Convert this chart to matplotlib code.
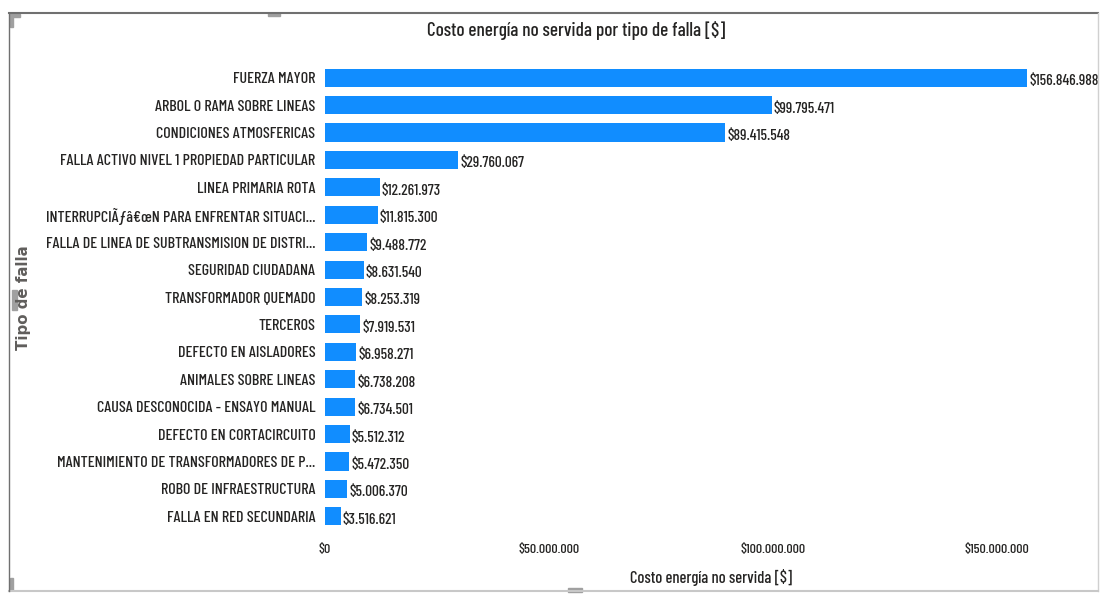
import matplotlib
matplotlib.use("Agg")
import matplotlib.pyplot as plt
from matplotlib.patches import Rectangle
from matplotlib.lines import Line2D
from matplotlib.ticker import FuncFormatter
from matplotlib.textpath import TextPath
from matplotlib.font_manager import FontProperties

categories = [
    "FUERZA MAYOR",
    "ARBOL O RAMA SOBRE LINEAS",
    "CONDICIONES ATMOSFERICAS",
    "FALLA ACTIVO NIVEL 1 PROPIEDAD PARTICULAR",
    "LINEA PRIMARIA ROTA",
    "INTERRUPCI\u00c3\u0192\u00e2\u20ac\u0153N PARA ENFRENTAR SITUACI...",
    "FALLA DE LINEA DE SUBTRANSMISION DE DISTRI...",
    "SEGURIDAD CIUDADANA",
    "TRANSFORMADOR QUEMADO",
    "TERCEROS",
    "DEFECTO EN AISLADORES",
    "ANIMALES SOBRE LINEAS",
    "CAUSA DESCONOCIDA - ENSAYO MANUAL",
    "DEFECTO EN CORTACIRCUITO",
    "MANTENIMIENTO DE TRANSFORMADORES DE P...",
    "ROBO DE INFRAESTRUCTURA",
    "FALLA EN RED SECUNDARIA",
]
values = [156846988, 99795471, 89415548, 29760067, 12261973, 11815300,
          9488772, 8631540, 8253319, 7919531, 6958271, 6738208, 6734501,
          5512312, 5472350, 5006370, 3516621]
x_ticks = [0, 50000000, 100000000, 150000000]

title = "Costo energía no servida por tipo de falla [$]"
x_label = "Costo energía no servida [$]"
y_label = "Tipo de falla"

FONT = ["Barlow Condensed", "PT Sans Narrow", "Roboto Condensed",
        "IBM Plex Sans Condensed", "DejaVu Sans"]
plt.rcParams["font.family"] = FONT
WT = "medium"


def fit_size(text, target_px, family=FONT, weight=WT):
    fp = FontProperties(family=family, weight=weight, size=10)
    w = TextPath((0, 0), text, prop=fp).get_extents().width  # in points at 10pt
    return 10 * target_px / (w * 100 / 72)


def money(v):
    return "$" + f"{int(round(v)):,}".replace(",", ".")


W, H = 1106, 596
fig = plt.figure(figsize=(W / 100, H / 100), dpi=100)

cat_fs = fit_size("FALLA ACTIVO NIVEL 1 PROPIEDAD PARTICULAR", 254)
val_fs = fit_size("$156.846.988", 68)
tick_fs = fit_size("$150.000.000", 64)
title_fs = fit_size(title, 296)
xl_fs = fit_size(x_label, 161)
yl_fs = fit_size(y_label, 104, family=["DejaVu Sans"], weight="bold")

ax = fig.add_axes([325 / W, 1 - 530 / H, (1095 - 325) / W, (530 - 64) / H])
ypos = list(range(len(categories)))
ax.barh(ypos, values, height=0.66, color="#118DFF")
ax.set_ylim(len(categories) - 0.5, -0.5)
ax.set_xlim(0, 172000000)
ax.set_yticks(ypos)
ax.set_yticklabels(categories, fontsize=cat_fs, color="#252423", fontweight=WT)
ax.set_xticks(x_ticks)
ax.xaxis.set_major_formatter(FuncFormatter(lambda v, p: money(v)))
ax.tick_params(axis="x", labelsize=tick_fs, colors="#252423", length=0, pad=10)
for lab in ax.get_xticklabels():
    lab.set_fontweight(WT)
ax.tick_params(axis="y", length=0, pad=7)
for s in ax.spines.values():
    s.set_visible(False)

for y, v in zip(ypos, values):
    ax.annotate(money(v), (v, y), xytext=(1.5, -2.5), textcoords="offset points",
                ha="left", va="center", fontsize=val_fs, color="#252423", fontweight=WT)

fig.text(576 / W, 1 - 30 / H, title, ha="center", va="center", fontsize=title_fs,
         color="#252423", fontweight=WT)
fig.text(711 / W, 1 - 578 / H, x_label, ha="center", va="center", fontsize=xl_fs,
         color="#252423", fontweight=WT)
fig.text(24 / W, 1 - 298 / H, y_label, ha="center", va="center", rotation=90,
         fontsize=yl_fs, fontweight="bold", color="#605E5C", family=["DejaVu Sans"])

# Frame of the visual
fig.add_artist(Line2D([9 / W, 1098 / W], [1 - 13 / H, 1 - 13 / H], color="#707070", lw=1.5))
fig.add_artist(Line2D([1098 / W, 1098 / W], [1 - 13 / H, 1 - 591 / H], color="#D0D0D0", lw=1))
fig.add_artist(Line2D([9 / W, 1098 / W], [1 - 591 / H, 1 - 591 / H], color="#C8C8C8", lw=1.5))
fig.add_artist(Line2D([9 / W, 9 / W], [1 - 13 / H, 1 - 591 / H], color="#707070", lw=1))
for (x0, y0, w, h) in [(10, 14, 3, 13), (10, 14, 10, 3), (268, 13, 12, 3),
                       (12, 290, 5, 20), (568, 588, 14, 4), (10, 578, 3, 12)]:
    fig.add_artist(Rectangle((x0 / W, 1 - (y0 + h) / H), w / W, h / H,
                             color="#A0A0A0", transform=fig.transFigure))

fig.savefig("out.png", dpi=100)
